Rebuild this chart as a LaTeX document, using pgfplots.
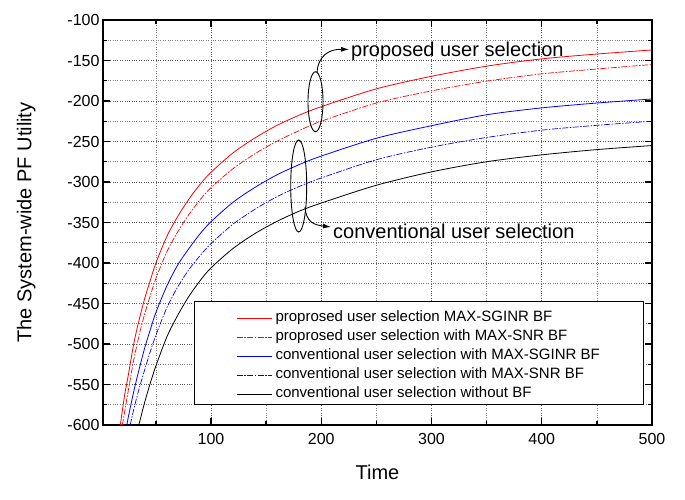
\documentclass[border=0pt]{standalone}
\usepackage{pgfplots}
\pgfplotsset{compat=1.18}
\usepackage{fontspec}
\setmainfont{Liberation Sans}
\usetikzlibrary{arrows.meta}

\newcommand{\fsz}[1]{\fontsize{#1bp}{#1bp}\selectfont}

\begin{document}
\begin{tikzpicture}
\path[use as bounding box] (0,0) rectangle (685bp,500bp);
\begin{axis}[
    at={(103bp,75bp)}, anchor=south west,
    width=549bp, height=405bp, scale only axis,
    xmin=2, xmax=500, ymin=-600, ymax=-100,
    xtick={100,200,...,500},
    minor xtick={50,150,250,350,450},
    ytick={-600,-550,...,-100},
    minor ytick={-575,-525,...,-125},
    xmajorgrids, ymajorgrids, xminorgrids, yminorgrids,
    major grid style={dotted, black!65, line width=0.6bp},
    minor grid style={dotted, black!50, line width=0.6bp},
    tick align=inside,
    major tick length=7bp, minor tick length=4bp,
    tick style={line width=1.4bp, black},
    axis line style={line width=1.5bp},
    /pgf/number format/assume math mode=true,
    ticklabel style={font=\fsz{16}},
    xticklabel style={yshift=-5bp},
    xlabel={Time},
    ylabel={The System-wide PF Utility},
    label style={font=\fsz{20}},
    xlabel style={at={(axis description cs:0.5,-0.116)}, anchor=center},
    ylabel style={at={(axis description cs:-0.140,0.5)}, anchor=center},
    legend cell align=left,
    legend image code/.code={\draw[#1] (0bp,0bp) -- (35bp,0bp);},
    legend style={draw=none, fill=none, at={(axis description cs:0.2423,0.2877)},
        anchor=north west, inner sep=0pt, row sep=0bp,
        font=\fsz{15},
        nodes={inner ysep=2bp, inner xsep=3.5bp, text height=11bp, text depth=4bp}},
]
\draw[line width=1bp, fill=white] (axis cs:85.2,-447) rectangle (axis cs:492,-575.3);

\addplot[red, line width=0.8bp, smooth] coordinates {
(17.7,-600) (20,-578) (22,-560) (25,-538) (30,-499) (35,-469) (40,-443) (45,-421)
(50,-400) (60,-367) (70,-342) (80,-321) (90,-303) (100,-288) (120,-264)
(140,-245.5) (160,-230) (180,-217.5) (200,-207) (250,-185) (300,-169.5)
(350,-157) (400,-148) (450,-142) (500,-137)};
\addlegendentry{proprosed user selection MAX-SGINR BF}

\addplot[red, line width=0.7bp, smooth, dash pattern=on 6bp off 1.5bp on 1.5bp off 1.5bp] coordinates {
(19.5,-600) (22,-581) (25,-557) (30,-519) (35,-488) (40,-462) (45,-440) (50,-419)
(60,-386) (70,-361) (80,-340) (90,-322) (100,-307) (120,-283.5) (140,-265)
(160,-249.5) (180,-236.5) (200,-225) (250,-202.5) (300,-187.5) (350,-175.5)
(400,-166.5) (450,-160.5) (500,-155)};
\addlegendentry{proprosed user selection with MAX-SNR BF}

\addplot[blue, line width=0.8bp, smooth] coordinates {
(23.7,-600) (25,-590) (30,-558) (35,-530) (40,-504) (45,-482) (50,-461)
(60,-428) (70,-402) (80,-382) (90,-364) (100,-349) (120,-325) (140,-306.5)
(160,-291) (180,-278.5) (200,-268) (250,-246) (300,-230.5) (350,-217)
(400,-208.5) (450,-202.5) (500,-197.5)};
\addlegendentry{conventional user selection with MAX-SGINR BF}

\addplot[blue, line width=0.7bp, smooth, dash pattern=on 6bp off 1.5bp on 1.5bp off 1.5bp] coordinates {
(26.7,-600) (30,-580) (35,-554) (40,-531) (45,-509) (50,-489) (60,-455)
(70,-429) (80,-408) (90,-391) (100,-376) (120,-352) (140,-333.5) (160,-318)
(180,-305.5) (200,-295) (250,-272.5) (300,-257) (350,-245) (400,-236)
(450,-230) (500,-225)};
\addlegendentry{conventional user selection with MAX-SNR BF}

\addplot[black, line width=0.8bp, smooth] coordinates {
(34.5,-600) (40,-571) (45,-548) (50,-527) (60,-491) (70,-464) (80,-441)
(90,-422) (100,-406) (120,-382) (140,-363.5) (160,-348.5) (180,-336)
(200,-326) (250,-304) (300,-287.5) (350,-275) (400,-266.5) (450,-260) (500,-255)};
\addlegendentry{conventional user selection without BF}
\end{axis}

% annotations
\draw[line width=0.9bp] (315.5bp,398.3bp) ellipse [x radius=7.5bp, y radius=30bp];
\draw[line width=0.9bp] (298.7bp,314bp) ellipse [x radius=8bp, y radius=46bp];
\draw[line width=0.9bp, -{Latex[length=8bp,width=5bp]}]
  (317bp,427bp) .. controls (318bp,445bp) and (330bp,451bp) .. (349bp,450.5bp);
\draw[line width=0.9bp, -{Latex[length=8bp,width=5bp]}]
  (305bp,293bp) .. controls (306bp,278bp) and (314bp,275bp) .. (331bp,273bp);
\node[anchor=base west, inner sep=0pt, font=\fsz{20}] at (351bp,443.3bp) {proposed user selection};
\node[anchor=base west, inner sep=0pt, font=\fsz{20}] at (333bp,261bp) {conventional user selection};
\end{tikzpicture}
\end{document}
